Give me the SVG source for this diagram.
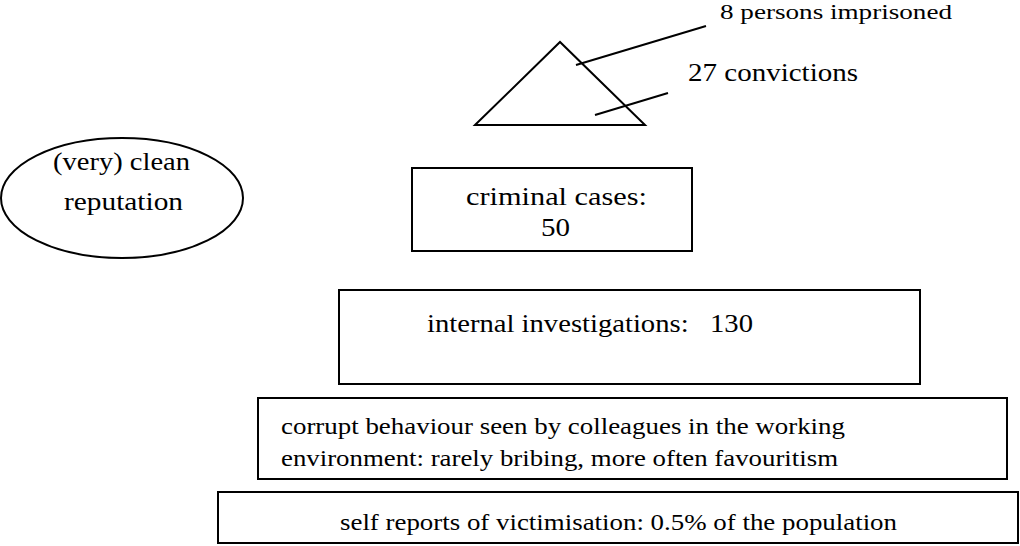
<svg xmlns="http://www.w3.org/2000/svg" width="1020" height="546" viewBox="0 0 1020 546">
<style>
.s{fill:none;stroke:#000;stroke-width:2}
text{font-family:"Liberation Serif","Times New Roman","DejaVu Serif",serif;fill:#000}
</style>
<rect width="1020" height="546" fill="#fff"/>
<g id="triangle"><polygon class="s" points="475,125 560,42 645,125"/></g>
<g id="connectors">
<line class="s" x1="576" y1="65" x2="706" y2="26"/>
<line class="s" x1="595" y1="115" x2="668" y2="93"/>
</g>
<g id="labels">
<text x="720" y="19" font-size="22" textLength="232" lengthAdjust="spacingAndGlyphs">8 persons imprisoned</text>
<text x="688" y="81" font-size="25" textLength="170" lengthAdjust="spacingAndGlyphs">27 convictions</text>
</g>
<g id="reputation">
<ellipse class="s" cx="122" cy="198" rx="121" ry="60"/>
<text x="53" y="170" font-size="25" textLength="137" lengthAdjust="spacingAndGlyphs">(very) clean</text>
<text x="64" y="210" font-size="25" textLength="119" lengthAdjust="spacingAndGlyphs">reputation</text>
</g>
<g id="criminal">
<rect class="s" x="412" y="168" width="280" height="83"/>
<text x="466" y="205" font-size="25" textLength="181" lengthAdjust="spacingAndGlyphs">criminal cases:</text>
<text x="541" y="236" font-size="25" textLength="29" lengthAdjust="spacingAndGlyphs">50</text>
</g>
<g id="internal">
<rect class="s" x="339" y="290" width="581" height="94"/>
<text x="427" y="332" font-size="25" xml:space="preserve" textLength="326" lengthAdjust="spacingAndGlyphs">internal investigations:   130</text>
</g>
<g id="corrupt">
<rect class="s" x="258" y="398" width="749" height="81"/>
<text x="281" y="434" font-size="24" textLength="564" lengthAdjust="spacingAndGlyphs">corrupt behaviour seen by colleagues in the working</text>
<text x="281" y="466" font-size="24" textLength="557" lengthAdjust="spacingAndGlyphs">environment: rarely bribing, more often favouritism</text>
</g>
<g id="self">
<rect class="s" x="218" y="492" width="800" height="51"/>
<text x="340" y="530" font-size="23" textLength="557" lengthAdjust="spacingAndGlyphs">self reports of victimisation: 0.5% of the population</text>
</g>
</svg>
